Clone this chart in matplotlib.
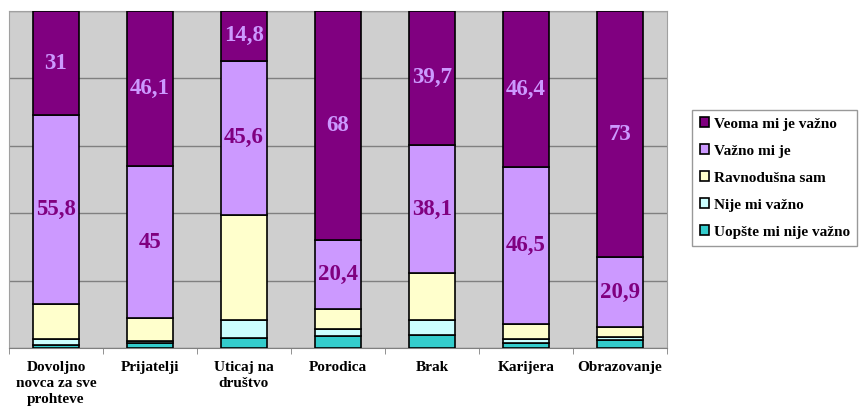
import numpy as np
import matplotlib
matplotlib.use("Agg")
import matplotlib.pyplot as plt

plt.rcParams["font.family"] = ["Liberation Serif", "DejaVu Serif"]
plt.rcParams["font.weight"] = "bold"

categories = ["Dovoljno\nnovca za sve\nprohteve", "Prijatelji", "Uticaj na\ndruštvo",
              "Porodica", "Brak", "Karijera", "Obrazovanje"]

# percentages, stacked from bottom to top
uopste = [1.0, 1.5, 3.0, 3.6, 3.9, 1.4, 2.4]
nije = [1.8, 0.6, 5.3, 2.0, 4.4, 1.2, 1.0]
ravnodusna = [10.4, 6.8, 31.3, 6.0, 13.9, 4.5, 2.7]
vazno = [55.8, 45, 45.6, 20.4, 38.1, 46.5, 20.9]
veoma = [31, 46.1, 14.8, 68, 39.7, 46.4, 73]

series = [
    ("Uopšte mi nije važno", uopste, "#33CCCC"),
    ("Nije mi važno", nije, "#CCFFFF"),
    ("Ravnodušna sam", ravnodusna, "#FFFFCC"),
    ("Važno mi je", vazno, "#CC99FF"),
    ("Veoma mi je važno", veoma, "#800080"),
]
label_colors = {"Važno mi je": "#800080", "Veoma mi je važno": "#CC99FF"}

fig = plt.figure(figsize=(8.63, 4.08), dpi=100)
ax = fig.add_axes([0.0104, 0.147, 0.7625, 0.826])
ax.set_facecolor("#CFCFCF")

x = np.arange(len(categories))
bottom = np.zeros(len(categories))
handles = []
for name, vals, col in series:
    vals = np.array(vals, dtype=float)
    b = ax.bar(x, vals, 0.49, bottom=bottom, color=col, edgecolor="black",
               linewidth=1.2, label=name, zorder=3)
    handles.append(b)
    if name in label_colors:
        for xi, v, bt in zip(x, vals, bottom):
            txt = f"{v:g}".replace(".", ",")
            ax.text(xi, bt + v / 2, txt, ha="center", va="center",
                    color=label_colors[name], fontsize=16.5, fontweight="bold", zorder=4)
    bottom += vals

ax.set_xlim(-0.5, len(categories) - 0.5)
ax.set_ylim(0, 100)
ax.set_yticks([0, 20, 40, 60, 80, 100])
ax.yaxis.grid(True, color="#808080", linewidth=1.0, zorder=0)
ax.tick_params(axis="y", left=False, labelleft=False)
ax.set_xticks(x)
ax.set_xticklabels(categories, fontsize=11, fontweight="bold", va="top",
                   linespacing=1.3)
ax.tick_params(axis="x", length=0, pad=9)
ax.set_xticks(np.arange(len(categories) + 1) - 0.5, minor=True)
ax.tick_params(axis="x", which="minor", length=4, color="#808080")
for side in ["top", "right", "left"]:
    ax.spines[side].set_color("#A0A0A0")
ax.spines["bottom"].set_color("#808080")

leg = fig.legend(handles[::-1], [s[0] for s in series][::-1],
                 loc="upper left", bbox_to_anchor=(0.802, 0.731),
                 fontsize=11, frameon=True, fancybox=False, edgecolor="#808080",
                 handlelength=0.6, handleheight=0.6, handletextpad=0.3,
                 labelspacing=0.9, borderpad=0.5, borderaxespad=0)
leg.get_frame().set_linewidth(1.0)
for t in leg.get_texts():
    t.set_fontweight("bold")

fig.savefig("out.png", dpi=100)
